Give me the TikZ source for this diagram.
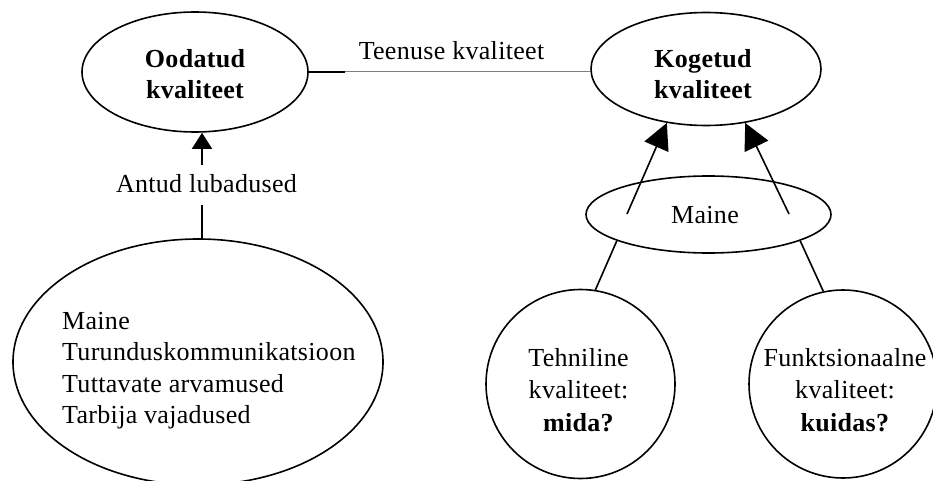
\documentclass[tikz,border=0pt]{standalone}
\usepackage{fontspec}
\setmainfont{Liberation Serif}[LetterSpace=1.2]
\usetikzlibrary{shapes.geometric,arrows.meta}

\begin{document}
\begin{tikzpicture}[x=1pt,y=-1pt,
  every node/.style={font=\fontsize{26}{31.5}\selectfont, inner sep=0pt},
  outline/.style={draw, line width=1.6pt},
  oval/.style={outline, ellipse},
  ring/.style={outline, circle},
  edge/.style={line width=1.6pt},
  bigtip/.style={-{Triangle[length=26pt,width=26pt]}},
  smalltip/.style={-{Triangle[length=16pt,width=20pt]}},
  faint/.style={draw=black!50, line width=1pt}]

  \useasboundingbox (0,0) rectangle (933,481);

  % main ovals
  \node[oval, minimum width=226pt, minimum height=120pt] (ood) at (195,72) {};
  \node[oval, minimum width=230pt, minimum height=113pt] (kog) at (706,69) {};
  \node[oval, minimum width=370pt, minimum height=246pt] (big) at (198,362) {};
  \node[oval, minimum width=245pt, minimum height=77pt] (mai) at (708.5,214.5) {};
  \node[ring, minimum size=189pt] (teh) at (580.5,384) {};
  \node[ring, minimum size=188pt] (fun) at (843,384) {};

  % texts
  \node[anchor=north, align=center, font=\fontsize{26}{31}\selectfont\bfseries] (oodt) at (195,49) {Oodatud\\kvaliteet};
  \node[anchor=north, align=center, font=\fontsize{26}{31}\selectfont\bfseries] (kogt) at (703,49) {Kogetud\\kvaliteet};
  \node[anchor=north west, align=left] (bigt) at (62,311.8)
    {Maine\\Turunduskommunikatsioon\\Tuttavate arvamused\\Tarbija vajadused};
  \node[anchor=base] (mait) at (705,223) {Maine};
  \node[anchor=north, align=center, font=\fontsize{26}{32.5}\selectfont] (teht) at (578.5,348.2)
    {Tehniline\\kvaliteet:\\\textbf{mida?}};
  \node[anchor=north, align=center, font=\fontsize{26}{32.5}\selectfont] (funt) at (845,348.2)
    {Funktsionaalne\\kvaliteet:\\\textbf{kuidas?}};
  \node[anchor=base] (tklab) at (451.5,60) {Teenuse kvaliteet};
  \node[anchor=base] (antud) at (206.5,193) {Antud lubadused};

  % service quality link
  \coordinate (tkj) at (345,72);
  \draw[edge] (ood.east) -- (tkj);
  \draw[faint] (tkj) -- (tkj -| kog.west);

  % promises feeding expected quality
  \coordinate (aa) at (202,165);
  \coordinate (ab) at (202,205);
  \draw[edge, smalltip] (aa) -- (aa |- ood.south);
  \draw[edge] (ab) -- (ab |- big.north);

  % image feeding experienced quality
  \coordinate (ml) at (627,214);
  \coordinate (mr) at (789,214);
  \draw[edge, bigtip] (ml) -- (kog.234);
  \draw[edge, bigtip] (mr) -- (kog.306);

  % technical and functional quality under the image
  \draw[edge] (mai.196) -- (teh.81.6);
  \draw[edge] (mai.344) -- (fun.102.9);
\end{tikzpicture}
\end{document}
